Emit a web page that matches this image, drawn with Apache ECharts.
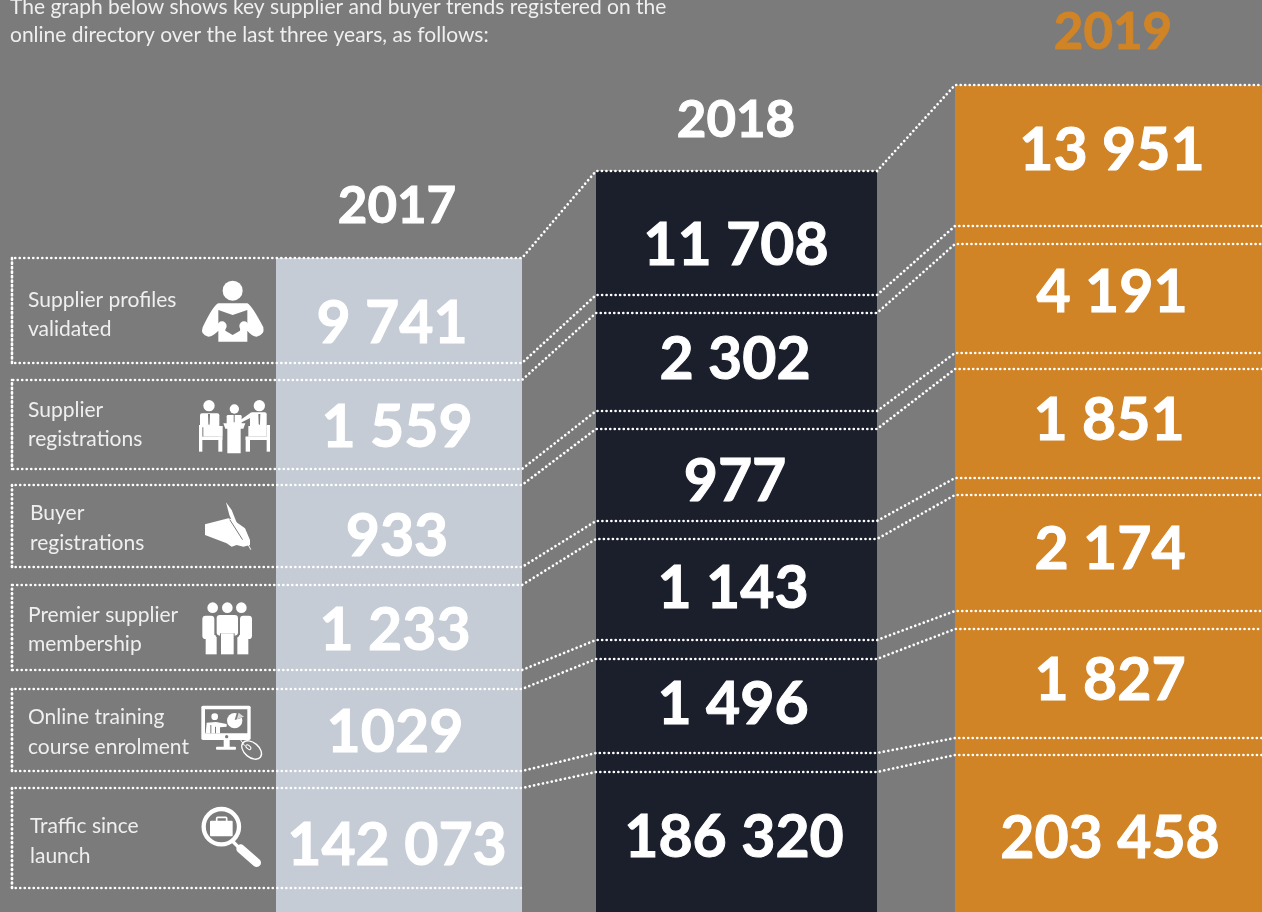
<!DOCTYPE html>
<html>
<head>
<meta charset="utf-8">
<title>Supplier and buyer trends</title>
<script src="https://cdn.jsdelivr.net/npm/echarts@6/dist/echarts.min.js"></script>
<style>
html, body { margin: 0; padding: 0; background: #7b7b7b; overflow: hidden; }
#main { width: 1262px; height: 912px; }
</style>
</head>
<body>
<div id="main"></div>
<script>
var intro = ['The graph below shows key supplier and buyer trends registered on the', 'online directory over the last three years, as follows:'];
var years = ['2017', '2018', '2019'];
var metrics = [
    ['Supplier profiles', 'validated'],
    ['Supplier', 'registrations'],
    ['Buyer', 'registrations'],
    ['Premier supplier', 'membership'],
    ['Online training', 'course enrolment'],
    ['Traffic since', 'launch']
];
var values2017 = ['9 741', '1 559', '933', '1 233', '1029', '142 073'];
var values2018 = ['11 708', '2 302', '977', '1 143', '1 496', '186 320'];
var values2019 = ['13 951', '4 191', '1 851', '2 174', '1 827', '203 458'];

// layout, all in page pixels on the hidden axes
var colLeft = [276, 596, 955];
var colRight = [522, 877, 1262];
var colTop = [258, 171, 85];
var colFill = ['#c5ccd5', '#1b1f2c', '#d08426'];
var titleX = [397, 736, 1113];
var titleY = [207, 121, 33];
var titleFill = ['#fff', '#fff', '#d08426'];
var rules2017 = [258, 363, 380, 469, 485, 567, 585, 670, 689, 771, 788, 888];
var rules2018 = [171, 295, 313, 411, 429, 521, 539, 640, 659, 753, 772];
var rules2019 = [85, 226, 244, 353, 369, 478, 495, 611, 629, 738, 755];
var valueX = [
    [392, 397, 397, 395, 395, 397],
    [736, 735, 735, 733, 733, 734],
    [1112, 1112, 1109, 1110, 1110, 1110]
];
var valueY = [
    [324, 428, 537, 631, 733, 846],
    [246, 360, 482, 589, 705, 838],
    [151, 293, 421, 550, 681, 839]
];
var metricX = [28, 28, 30, 28, 28, 30];
var metricY = [[300, 329], [410, 439], [513, 543], [615, 644], [717, 747], [826, 856]];

var GREY = '#7b7b7b';
var FAMILY = 'Lato, "Open Sans", sans-serif';

function textEl(api, x, y, str, font, fill, align, heavy) {
    var p = api.coord([x, y]);
    var style = { x: p[0], y: p[1], text: str, font: font, fill: fill, align: align || 'center', verticalAlign: 'middle' };
    if (heavy) {
        style.stroke = fill;
        style.lineWidth = heavy;
    }
    return { type: 'text', style: style };
}

function renderColumn(params, api) {
    var i = api.value(0);
    var a = api.coord([colLeft[i], colTop[i]]);
    var b = api.coord([colRight[i], 912]);
    return { type: 'rect', shape: { x: a[0], y: a[1], width: b[0] - a[0], height: b[1] - a[1] }, style: { fill: colFill[i] } };
}

// one dotted rule per row edge, running from the box on the left through all three columns
function renderRule(params, api) {
    var i = api.value(0);
    var left = i % 2 === 0 ? rules2017[i + 1] : rules2017[i - 1];
    var pts;
    if (i < rules2018.length) {
        pts = [[12, left], [12, rules2017[i]], [522, rules2017[i]], [596, rules2018[i]], [877, rules2018[i]], [955, rules2019[i]], [1262, rules2019[i]]];
    } else {
        pts = [[12, left], [12, rules2017[i]], [522, rules2017[i]]];
    }
    return {
        type: 'polyline',
        shape: { points: pts.map(function (p) { return api.coord(p); }) },
        style: { stroke: '#fff', lineWidth: 2.7, lineCap: 'round', lineDash: [0.01, 4.5], fill: null }
    };
}

function renderValues(params, api) {
    var c = api.value(0), r = api.value(1);
    var vals = [values2017, values2018, values2019][c];
    return textEl(api, valueX[c][r], valueY[c][r], vals[r], 'bold 59px ' + FAMILY, '#fff', 'center', 1);
}

function renderTitle(params, api) {
    var c = api.value(0);
    return textEl(api, titleX[c], titleY[c], years[c], 'bold 51px ' + FAMILY, titleFill[c], 'center', 1);
}

function renderMetric(params, api) {
    var r = api.value(0), l = api.value(1);
    return textEl(api, metricX[r], metricY[r][l], metrics[r][l], '21px ' + FAMILY, '#efefef', 'left');
}

function renderIntro(params, api) {
    var l = api.value(0);
    return textEl(api, 10, [7, 35][l], intro[l], '21px ' + FAMILY, '#efefef', 'left');
}

function renderIcon(params, api) {
    return icons[api.value(0)];
}

function dataCells(n, m) {
    var out = [];
    for (var i = 0; i < n; i++) {
        for (var j = 0; j < m; j++) { out.push([i, j]); }
    }
    return out;
}

// icons are drawn in 3x crop coordinates, then scaled down
function icon(ox, oy, children) {
    return { type: 'group', x: ox, y: oy, scaleX: 1 / 3, scaleY: 1 / 3, children: children };
}
function path(d, fill) {
    return { type: 'path', shape: { pathData: d }, style: { fill: fill || '#fff' } };
}
function strokePath(d, width, color) {
    return { type: 'path', shape: { pathData: d }, style: { fill: null, stroke: color || '#fff', lineWidth: width, lineCap: 'round' } };
}
function circle(cx, cy, r, fill) {
    return { type: 'circle', shape: { cx: cx, cy: cy, r: r }, style: { fill: fill || '#fff' } };
}
function box(x, y, w, h, fill, radius) {
    return { type: 'rect', shape: { x: x, y: y, width: w, height: h, r: radius || 0 }, style: { fill: fill || '#fff' } };
}

var icons = [
    icon(0, 240, [
        circle(698, 152, 30),
        path('M655 190 L742 190 Q755 195 790 262 Q795 285 770 290 Q755 288 742 272 L742 305 L655 305 L655 272 Q640 288 625 290 Q600 285 608 262 Q640 195 655 190 Z'),
        path('M655 210 L698 225 L742 210 L742 252 L722 252 L720 272 L698 285 L676 272 L676 252 L655 252 Z', GREY),
        circle(666, 258, 14), circle(732, 258, 14)
    ]),
    icon(0, 240, [
        circle(627, 497, 17), circle(703, 507, 14), circle(778, 497, 17),
        // left sitter and chair
        box(600, 520, 58, 42, '#fff', 6), box(610, 558, 58, 32),
        box(597, 555, 10, 80), box(597, 590, 70, 10), box(655, 590, 12, 45),
        path('M624 522 L630 522 L629 552 L627 556 L625 552 Z', GREY),
        // table and the sitter behind it
        box(680, 525, 45, 30, '#fff', 4),
        path('M670 550 L736 550 L730 566 L722 566 L722 640 L682 640 L682 566 L676 566 Z'),
        box(701, 525, 3, 22, GREY),
        // right sitter and chair
        box(750, 517, 50, 45, '#fff', 6), box(745, 558, 55, 32),
        path('M720 541 L752 518 L758 530 L722 548 Z'),
        box(800, 555, 10, 80), box(737, 590, 73, 10), box(737, 590, 13, 45),
        path('M775 522 L781 522 L780 552 L778 556 L776 552 Z', GREY)
    ]),
    icon(0, 470, [
        path('M615 163 L685 145 L700 150 L735 175 L750 210 L750 225 L730 230 L710 225 L695 230 L680 220 L615 195 Z'),
        path('M678 97 L695 120 L715 170 L705 175 L688 135 Z'),
        strokePath('M690 150 L727 208', 3, GREY),
        strokePath('M722 182 L752 238', 3)
    ]),
    icon(0, 470, [
        circle(638, 413, 16), circle(682, 413, 16), circle(724, 413, 16),
        box(607, 437, 36, 70, '#fff', 10), box(617, 495, 33, 58),
        box(720, 437, 36, 70, '#fff', 10), box(712, 495, 33, 58),
        box(646, 433, 72, 70, GREY, 10), box(650, 435, 64, 62, '#fff', 10), box(660, 490, 44, 63, GREY), box(663, 490, 38, 63)
    ]),
    icon(0, 670, [
        box(604, 107, 148, 103, '#fff', 5),
        box(615, 118, 127, 72, GREY),
        circle(644, 140, 10),
        path('M620 158 L648 156 L680 162 L680 170 L660 172 L660 190 L617 190 Z'),
        box(631, 165, 3, 25, GREY), box(645, 170, 3, 20, GREY),
        circle(704, 152, 23),
        path('M704 150 L712 124 L736 140 Z', GREY),
        path('M710 148 L716 128 L732 140 Z', '#d8d8d8'),
        circle(680, 200, 5, GREY),
        box(671, 210, 18, 22), box(648, 230, 60, 9, '#fff', 3),
        strokePath('M722 210 L733 226', 3),
        { type: 'group', x: 755, y: 240, rotation: -Math.PI / 4.5, children: [
            { type: 'ellipse', shape: { cx: 0, cy: 0, rx: 34, ry: 22 }, style: { fill: null, stroke: '#fff', lineWidth: 4 } },
            { type: 'ellipse', shape: { cx: -13, cy: 0, rx: 9, ry: 5 }, style: { fill: null, stroke: '#fff', lineWidth: 3 } }
        ] }
    ]),
    icon(0, 670, [
        { type: 'circle', shape: { cx: 664, cy: 470, r: 53 }, style: { fill: null, stroke: '#fff', lineWidth: 13 } },
        box(630, 452, 68, 47, '#fff', 3),
        { type: 'rect', shape: { x: 650, y: 442, width: 30, height: 14, r: 3 }, style: { fill: null, stroke: '#fff', lineWidth: 5 } },
        strokePath('M700 516 L716 532', 10),
        strokePath('M722 536 L770 578', 26)
    ])
];

var myChart = echarts.init(document.getElementById('main'), null, { renderer: 'canvas' });
var option = {
    backgroundColor: GREY,
    animation: false,
    tooltip: { show: false },
    grid: { left: 0, right: 0, top: 0, bottom: 0 },
    xAxis: { type: 'value', min: 0, max: 1262, show: false },
    yAxis: { type: 'value', min: 0, max: 912, inverse: true, show: false },
    series: [
        { type: 'custom', name: 'columns', clip: false, silent: true, z: 1, renderItem: renderColumn, data: dataCells(3, 1) },
        { type: 'custom', name: 'rules', clip: false, silent: true, z: 2, renderItem: renderRule, data: dataCells(rules2017.length, 1) },
        { type: 'custom', name: 'values', clip: false, silent: true, z: 3, renderItem: renderValues, data: dataCells(3, 6) },
        { type: 'custom', name: 'years', clip: false, silent: true, z: 3, renderItem: renderTitle, data: dataCells(3, 1) },
        { type: 'custom', name: 'metrics', clip: false, silent: true, z: 3, renderItem: renderMetric, data: dataCells(6, 2) },
        { type: 'custom', name: 'intro', clip: false, silent: true, z: 3, renderItem: renderIntro, data: dataCells(2, 1) },
        { type: 'custom', name: 'icons', clip: false, silent: true, z: 3, renderItem: renderIcon, data: dataCells(icons.length, 1) }
    ]
};
myChart.setOption(option);
</script>
</body>
</html>
